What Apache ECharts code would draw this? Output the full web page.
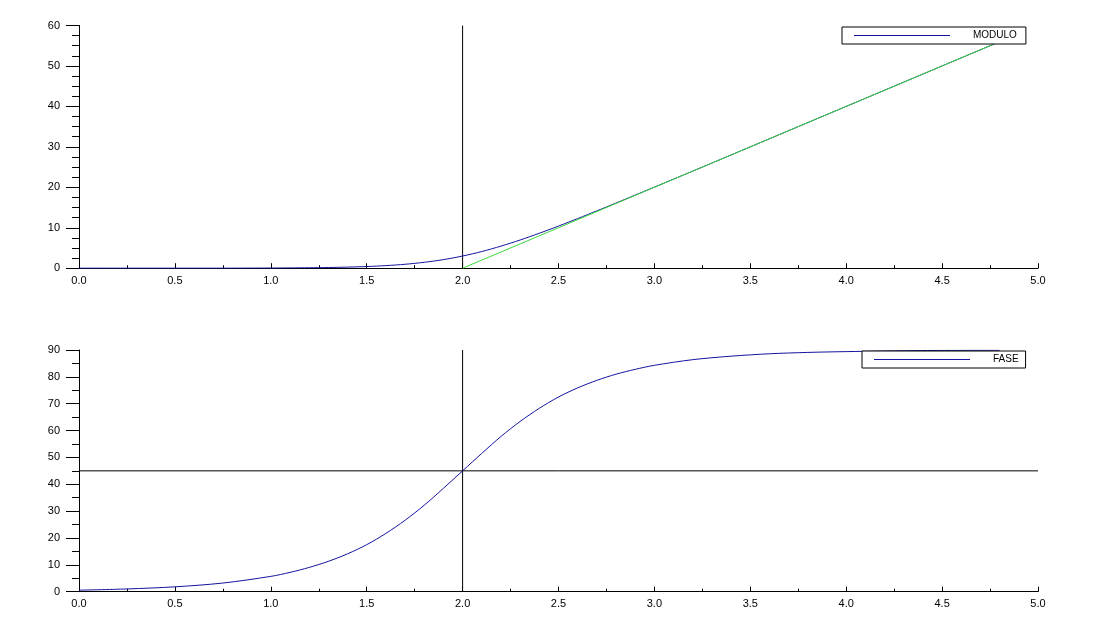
<!DOCTYPE html>
<html>
<head>
<meta charset="utf-8">
<script src="https://cdn.jsdelivr.net/npm/echarts@6/dist/echarts.min.js"></script>
<style>
html,body{margin:0;padding:0;background:#fff;}
#c{width:1104px;height:627px;}
</style>
</head>
<body>
<div id="c"></div>
<script>
// x positions (log10 of frequency)
const xModulo = [0.0,0.2,0.4,0.6,0.8,1.0,1.1,1.2,1.3,1.4,1.5,1.6,1.7,1.8,1.9,2.0,2.1,2.2,2.3,2.4,2.5,2.6,2.7,2.8,2.9,3.0,3.2,3.4,3.6,3.8,4.0,4.2,4.4,4.6,4.8];
const modulo  = [0.0,0.0,0.0,0.0,0.01,0.04,0.07,0.11,0.17,0.27,0.41,0.64,0.97,1.46,2.12,3.01,4.12,5.46,6.97,8.64,10.41,12.27,14.17,16.11,18.07,20.04,24.0,28.0,32.0,36.0,40.0,44.0,48.0,52.0,56.0];
const xAsint  = [2.0,4.8];
const asintota = [0.0,56.0];

const xFase = [0.0,0.25,0.5,0.75,1.0,1.1,1.2,1.3,1.4,1.5,1.6,1.7,1.8,1.9,2.0,2.1,2.2,2.3,2.4,2.5,2.6,2.7,2.8,2.9,3.0,3.2,3.4,3.6,3.8,4.0,4.4,4.8];
const fase  = [0.57,1.02,1.81,3.22,5.71,7.18,9.03,11.3,14.1,17.5,21.7,26.6,32.2,38.5,45.0,51.5,57.8,63.4,68.3,72.5,75.9,78.7,81.0,82.8,84.3,86.4,87.7,88.6,89.1,89.4,89.8,89.9];

const vLineX = 2.0;
const hLineY = 45;
const xTicksMin = 0, xTicksMax = 5, xTickStep = 0.5;
const yModMax = 60, yModStep = 10;
const yFaseMax = 90, yFaseStep = 10;

const pairs = (xs, ys) => xs.map((x, i) => [x, ys[i]]);

const FONT = 'Liberation Sans';
const blue = '#1414a0';
const green = '#3cd83c';

function xAxis(gridIndex){
  return {
    type:'value', gridIndex, min:xTicksMin, max:xTicksMax, interval:xTickStep,
    axisLine:{show:true, onZero:false, lineStyle:{color:'#000', width:1}},
    axisTick:{show:true, inside:true, length:5, lineStyle:{color:'#000'}},
    minorTick:{show:true, splitNumber:2, length:3, lineStyle:{color:'#000'}},
    splitLine:{show:false},
    axisLabel:{color:'#000', fontFamily:FONT, fontSize:11, margin:7, formatter:v=>v.toFixed(1)}
  };
}
function yAxis(gridIndex, max, step, minorSplit){
  return {
    type:'value', gridIndex, min:0, max, interval:step,
    axisLine:{show:true, onZero:false, lineStyle:{color:'#000', width:1}},
    axisTick:{show:true, inside:false, length:13, lineStyle:{color:'#000'}},
    minorTick:{show:true, splitNumber:minorSplit, length:7, lineStyle:{color:'#000'}},
    splitLine:{show:false},
    axisLabel:{color:'#000', fontFamily:FONT, fontSize:11, margin:19}
  };
}
function legend(name, left, top, padRight){
  return {
    data:[name], left, top, orient:'horizontal',
    icon:'none', itemWidth:0, itemHeight:11,
    backgroundColor:'#fff', borderColor:'#000', borderWidth:1, borderRadius:0,
    padding:[3,padRight,3,7],
    formatter: n => '{ln|}{t|' + n + '}',
    textStyle:{color:'#000', fontFamily:FONT, fontSize:10, lineHeight:11,
      rich:{
        ln:{width:96, height:1, backgroundColor:blue},
        t:{color:'#000', fontFamily:FONT, fontSize:10, lineHeight:11, padding:[0,0,0,23]}
      }
    },
    selectedMode:false, z:10
  };
}

const chart = echarts.init(document.getElementById('c'), null, {renderer:'canvas'});
chart.setOption({
  animation:false,
  backgroundColor:'#fff',
  grid:[
    {left:79, right:66, top:25.5, height:242.7},
    {left:79, right:66, top:350, height:241.7}
  ],
  xAxis:[xAxis(0), xAxis(1)],
  yAxis:[yAxis(0, yModMax, yModStep, 4), yAxis(1, yFaseMax, yFaseStep, 2)],
  legend:[legend('MODULO', 842, 27, 9), legend('FASE', 862, 351, 7)],
  series:[
    {name:'MODULO', type:'line', xAxisIndex:0, yAxisIndex:0, data:pairs(xModulo, modulo),
     showSymbol:false, smooth:0.3, color:blue, lineStyle:{color:blue, width:1}, itemStyle:{color:blue}, z:2},
    {name:'asintota', type:'line', xAxisIndex:0, yAxisIndex:0, data:pairs(xAsint, asintota),
     showSymbol:false, lineStyle:{color:green, width:1}, itemStyle:{color:green}, z:3},
    {name:'v1', type:'line', xAxisIndex:0, yAxisIndex:0, data:[[vLineX,0],[vLineX,yModMax]],
     showSymbol:false, lineStyle:{color:'#000', width:1}, z:1},
    {name:'FASE', type:'line', xAxisIndex:1, yAxisIndex:1, data:pairs(xFase, fase),
     showSymbol:false, smooth:0.3, color:blue, lineStyle:{color:blue, width:1}, itemStyle:{color:blue}, z:2},
    {name:'v2', type:'line', xAxisIndex:1, yAxisIndex:1, data:[[vLineX,0],[vLineX,yFaseMax]],
     showSymbol:false, lineStyle:{color:'#000', width:1}, z:1},
    {name:'h2', type:'line', xAxisIndex:1, yAxisIndex:1, data:[[xTicksMin,hLineY],[xTicksMax,hLineY]],
     showSymbol:false, lineStyle:{color:'#000', width:1}, z:1}
  ]
});
</script>
</body>
</html>
